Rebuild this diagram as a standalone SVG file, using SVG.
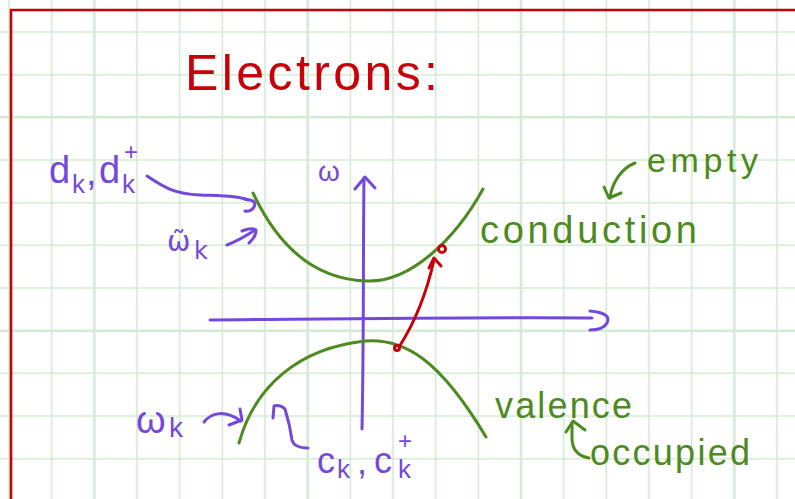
<svg xmlns="http://www.w3.org/2000/svg" width="795" height="499" viewBox="0 0 795 499">
<style>
.grid{stroke:#d4ebd4;stroke-width:1.6;fill:none}
.gridb{stroke:#d4ebd4;stroke-width:2.6;fill:none}
.frame{stroke:#c8000a;stroke-width:2.6;fill:none}
.pl{stroke:#7448dc;stroke-width:3;fill:none;stroke-linecap:round;stroke-linejoin:round}
.gl{stroke:#4d8a20;stroke-width:3;fill:none;stroke-linecap:round;stroke-linejoin:round}
.rl{stroke:#c8000a;stroke-width:3;fill:none;stroke-linecap:round;stroke-linejoin:round}
text{font-family:"Liberation Sans","DejaVu Sans",sans-serif}
.pt{fill:#7448dc}
.gt{fill:#4d8a20}
.rt{fill:#c8000a}
</style>
<rect width="795" height="499" fill="#ffffff"/>
<g id="grid">
<path class="grid" d="M9,0V499M51.7,0V499M137,0V499M179.7,0V499M222.3,0V499M265,0V499M350.3,0V499M393,0V499M435.7,0V499M478.3,0V499M563.7,0V499M606.3,0V499M649,0V499M691.7,0V499M777,0V499M0,32H795M0,74.7H795M0,160H795M0,202.7H795M0,245.3H795M0,288H795M0,373.3H795M0,416H795M0,458.7H795"/>
<path class="gridb" d="M94.3,0V499M307.7,0V499M521,0V499M734.3,0V499M0,117.3H795M0,330.7H795"/>
<path class="frame" d="M11,499V10H795"/>
</g>
<g id="title"><text class="rt" x="185" y="90" font-size="50" textLength="253" lengthAdjust="spacing">Electrons:</text></g>
<g id="axes">
<path class="pl" d="M364,178 C363,250 364,330 362,429"/>
<path class="pl" d="M355,189 L365,177 L375,188"/>
<path class="pl" d="M210,320 C330,319 480,317 592,318"/>
<path class="pl" d="M590,311 Q612,313 607,323 Q603,330 590,330"/>
</g>
<g id="omega-axis"><text class="pt" x="318" y="181" font-size="28">ω</text></g>
<g id="conduction-band"><path class="gl" d="M253,193 C275,240 310,280 368,281 C410,282 455,240 483,189"/></g>
<g id="valence-band"><path class="gl" d="M239,443 C255,385 300,348 365,341 C405,338 440,360 486,437"/></g>
<g id="label-dk"><text class="pt" font-size="38"><tspan x="49" y="183">d</tspan><tspan x="72" y="193" font-size="26">k</tspan><tspan x="86" y="185">,</tspan><tspan x="99" y="183">d</tspan><tspan x="122" y="193" font-size="26">k</tspan><tspan x="124" y="160" font-size="24">+</tspan></text></g>
<g id="label-wtilde"><text class="pt" font-size="28" style="font-family:'DejaVu Sans',sans-serif"><tspan x="167" y="251">ω̃</tspan><tspan x="194" y="259" font-size="24">k</tspan></text></g>
<g id="label-wk"><text class="pt" font-size="38"><tspan x="136" y="433">ω</tspan><tspan x="169" y="437" font-size="28">k</tspan></text></g>
<g id="label-ck"><text class="pt" font-size="36"><tspan x="317" y="473">c</tspan><tspan x="337" y="478" font-size="26">k</tspan><tspan x="357" y="474">,</tspan><tspan x="374" y="473">c</tspan><tspan x="398" y="478" font-size="26">k</tspan><tspan x="398" y="449" font-size="24">+</tspan></text></g>
<g id="label-conduction"><text class="gt" x="480" y="243" font-size="38" textLength="217" lengthAdjust="spacing">conduction</text></g>
<g id="label-empty"><text class="gt" x="647" y="172" font-size="34" textLength="111" lengthAdjust="spacing">empty</text></g>
<g id="label-valence"><text class="gt" x="495" y="418" font-size="36" textLength="137" lengthAdjust="spacing">valence</text></g>
<g id="label-occupied"><text class="gt" x="590" y="465" font-size="36" textLength="160" lengthAdjust="spacing">occupied</text></g>
<g id="connectors">
<path class="pl" d="M147,176 C165,188 175,194 200,195 C225,196 240,196 248,200"/>
<path class="pl" d="M244,199 Q258,200 254,207 Q251,212 245,211"/>
<path class="pl" d="M227,245 C237,241 246,236 255,230"/>
<path class="pl" d="M242,231 Q252,227 256,230 Q256,237 249,243"/>
<path class="pl" d="M204,422 C212,412 225,410 241,421"/>
<path class="pl" d="M240,409 L242,420 L229,425"/>
<path class="pl" d="M273,418 L274,406 Q280,404 285,409 Q290,425 292,440 Q294,448 308,448"/>
<path class="gl" d="M635,163 C622,168 612,182 610,198"/>
<path class="gl" d="M604,187 L609,198 L621,193"/>
<path class="gl" d="M589,458 C578,456 572,450 572,438 L572,423"/>
<path class="gl" d="M566,432 L573,421 L585,430"/>
<path class="rl" d="M399,347 C410,330 425,300 434,260"/>
<path class="rl" d="M429,268 L434,258 L441,266"/>
<circle class="rl" cx="442" cy="249" r="3.5"/>
<circle class="rl" cx="397" cy="348" r="2.5"/>
</g>
</svg>
